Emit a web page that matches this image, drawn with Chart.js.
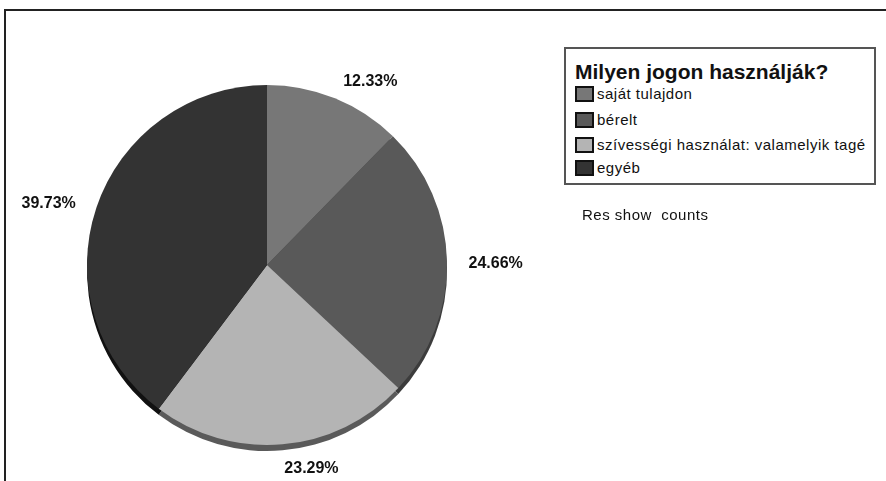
<!DOCTYPE html>
<html>
<head>
<meta charset="utf-8">
<script src="https://cdn.jsdelivr.net/npm/chart.js@4/dist/chart.umd.min.js"></script>
<style>
  html, body { margin: 0; padding: 0; background: #fff; }
  #wrap { position: relative; width: 886px; height: 481px; overflow: hidden; font-family: "Liberation Sans", Arial, sans-serif; }
  #frame { position: absolute; left: 4px; top: 9px; width: 900px; height: 500px; border-left: 2px solid #222; border-top: 2px solid #222; }
  #chart { position: absolute; left: 0; top: 0; }
  #legend { position: absolute; left: 564px; top: 47px; width: 308px; height: 134px; border: 2px solid #555; background: #fff; }
  #legend .title { position: absolute; left: 9px; top: 11px; font-weight: bold; font-size: 21px; color: #111; white-space: nowrap; }
  #legend .item { position: absolute; left: 9px; height: 17px; font-size: 15px; letter-spacing: 0.5px; color: #111; white-space: nowrap; line-height: 17px; }
  #legend .sw { display: inline-block; width: 15px; height: 12px; border: 2px solid #111; vertical-align: top; margin-top: 1px; margin-right: 3px; }
  #note { position: absolute; left: 582px; top: 206px; font-size: 15px; letter-spacing: 0.5px; color: #111; white-space: pre; }
</style>
</head>
<body>
<div id="wrap">
  <div id="frame"></div>
  <canvas id="chart" width="886" height="481"></canvas>
  <div id="legend"><div class="title" id="legend-title"></div></div>
  <div id="note">Res show  counts</div>
</div>
<script>
const legendTitle = 'Milyen jogon használják?';
const categories = ['saját tulajdon', 'bérelt', 'szívességi használat: valamelyik tagé', 'egyéb'];
const counts = [9, 18, 17, 29];
const percentLabels = ['12.33%', '24.66%', '23.29%', '39.73%'];
const sliceColors = ['#777777', '#595959', '#b4b4b4', '#333333'];
const shadowColors = ['#4a4a4a', '#3c3c3c', '#5a5a5a', '#111111'];

// legend (html)
document.getElementById('legend-title').textContent = legendTitle;
const legendEl = document.getElementById('legend');
const itemTops = [36, 62, 87, 110];
categories.forEach((c, i) => {
  const d = document.createElement('div');
  d.className = 'item';
  d.style.top = itemTops[i] + 'px';
  d.innerHTML = `<span class="sw" style="background:${sliceColors[i]}"></span>${c}`;
  legendEl.appendChild(d);
});

// 3D-ish drop shadow under the pie
const pieShadow = {
  id: 'pieShadow',
  beforeDatasetsDraw(chart) {
    const ctx = chart.ctx;
    const arcs = chart.getDatasetMeta(0).data;
    ctx.save();
    arcs.forEach((a, i) => {
      ctx.beginPath();
      ctx.moveTo(a.x, a.y + 6);
      ctx.arc(a.x, a.y + 6, a.outerRadius, a.startAngle, a.endAngle);
      ctx.closePath();
      ctx.fillStyle = shadowColors[i];
      ctx.fill();
    });
    ctx.restore();
  }
};

// percent labels outside the slices
const pieLabels = {
  id: 'pieLabels',
  afterDatasetsDraw(chart) {
    const ctx = chart.ctx;
    const arcs = chart.getDatasetMeta(0).data;
    ctx.save();
    ctx.font = 'bold 16px "Liberation Sans", Arial, sans-serif';
    ctx.fillStyle = '#111';
    ctx.textBaseline = 'middle';
    arcs.forEach((a, i) => {
      const mid = (a.startAngle + a.endAngle) / 2;
      const r = a.outerRadius * 1.12;
      const x = a.x + Math.cos(mid) * r;
      const y = a.y + Math.sin(mid) * r + 3;
      ctx.textAlign = Math.cos(mid) >= -0.01 ? 'left' : 'right';
      ctx.fillText(percentLabels[i], x, y);
    });
    ctx.restore();
  }
};

new Chart(document.getElementById('chart'), {
  type: 'pie',
  data: {
    labels: categories,
    datasets: [{
      data: counts,
      backgroundColor: sliceColors,
      borderWidth: 0
    }]
  },
  options: {
    responsive: false,
    animation: false,
    layout: { padding: { left: 87, right: 439, top: 85, bottom: 36 } },
    plugins: { legend: { display: false }, tooltip: { enabled: false } }
  },
  plugins: [pieShadow, pieLabels]
});
</script>
</body>
</html>
